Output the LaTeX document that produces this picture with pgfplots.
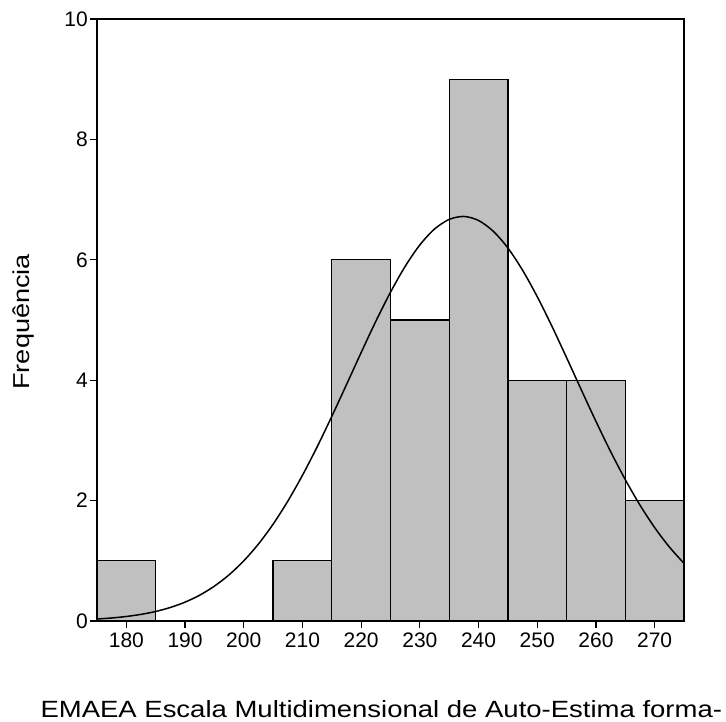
\documentclass[border=0pt]{standalone}
\usepackage{fontspec}
\setmainfont{Liberation Sans}
\usepackage{pgfplots}
\pgfplotsset{compat=1.18}
\definecolor{bargray}{RGB}{192,192,192}
\begin{document}
\begin{tikzpicture}
\useasboundingbox (-97pt,-101pt) rectangle (629pt,621pt);
\begin{axis}[
  at={(0pt,0pt)}, anchor=south west,
  scale only axis, width=587pt, height=602pt,
  xmin=175, xmax=275, ymin=0, ymax=10,
  xtick={180,190,...,270}, ytick={0,2,...,10},
  tick align=outside, tick pos=left,
  major tick length=7pt,
  every tick/.style={black, line width=1.2pt},
  axis line style={line width=1.3pt},
  /pgf/number format/assume math mode=true,
  tick label style={font=\fontsize{21}{21}\selectfont},
  xticklabel style={yshift=-1pt},
  yticklabel style={inner sep=2pt},
  ylabel={\scalebox{1.18}[1]{Frequência}},
  ylabel style={at={(axis description cs:-0.126,0.497)}, anchor=center, font=\fontsize{23}{23}\selectfont},
  xlabel={\scalebox{1.17}[1]{EMAEA Escala Multidimensional de Auto-Estima forma-}},
  xlabel style={at={(axis description cs:-0.1022,-0.1595)}, anchor=base west, font=\fontsize{23.5}{23.5}\selectfont},
  axis on top,
]
\addplot[ybar interval, fill=bargray, draw=black, line width=1.3pt] coordinates {
  (175,1) (185,0) (195,0) (205,1) (215,6) (225,5) (235,9) (245,4) (255,4) (265,2) (275,2)
};
\addplot[black, line width=1.5pt, smooth, tension=0.5] coordinates {
  (175,0.033) (177.5,0.050) (180,0.075) (182.5,0.110) (185,0.158) (187.5,0.225)
  (190,0.313) (192.5,0.429) (195,0.579) (197.5,0.767) (200,0.999) (202.5,1.278)
  (205,1.608) (207.5,1.990) (210,2.420) (212.5,2.892) (215,3.399) (217.5,3.926)
  (220,4.459) (222.5,4.978) (225,5.461) (227.5,5.891) (230,6.247) (232.5,6.511)
  (235,6.671) (237.5,6.720) (240,6.653) (242.5,6.475) (245,6.196) (247.5,5.827)
  (250,5.387) (252.5,4.896) (255,4.374) (257.5,3.841) (260,3.316) (262.5,2.814)
  (265,2.348) (267.5,1.925) (270,1.552) (272.5,1.230) (275,0.958)
};
\end{axis}
\end{tikzpicture}
\end{document}
